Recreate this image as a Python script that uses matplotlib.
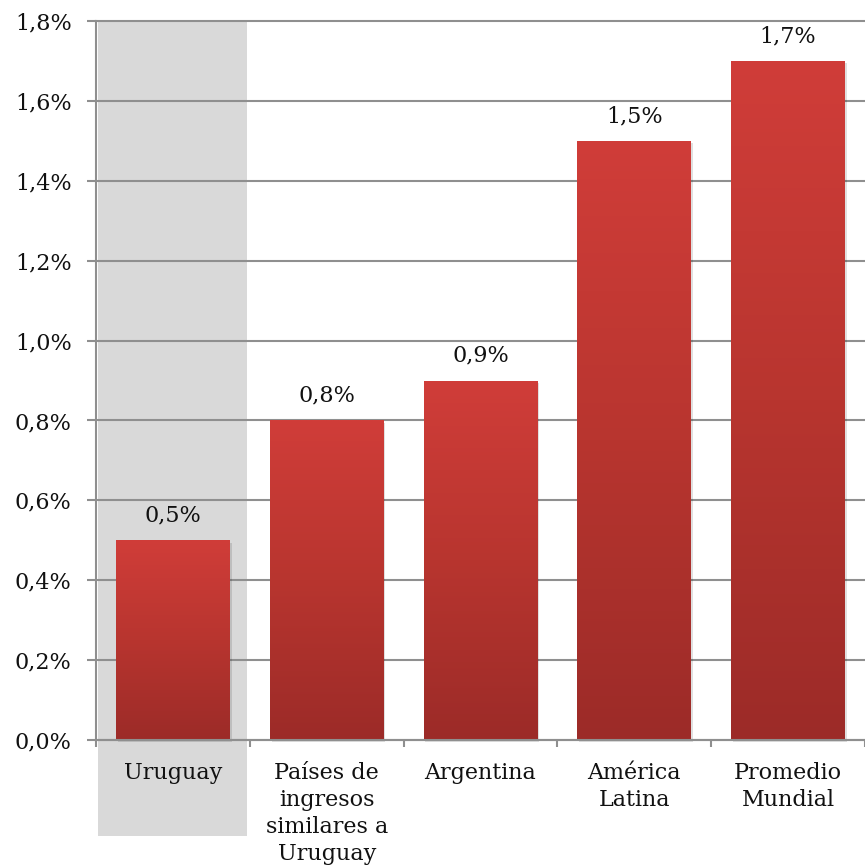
import numpy as np
import matplotlib
matplotlib.use("Agg")
import matplotlib.pyplot as plt
from matplotlib.patches import Rectangle
from matplotlib.colors import LinearSegmentedColormap

categories = ["Uruguay", "Países de\ningresos\nsimilares a\nUruguay", "Argentina", "América\nLatina", "Promedio\nMundial"]
values = [0.5, 0.8, 0.9, 1.5, 1.7]
value_labels = ["0,5%", "0,8%", "0,9%", "1,5%", "1,7%"]
yticks = [0.0, 0.2, 0.4, 0.6, 0.8, 1.0, 1.2, 1.4, 1.6, 1.8]
ytick_labels = ["0,0%", "0,2%", "0,4%", "0,6%", "0,8%", "1,0%", "1,2%", "1,4%", "1,6%", "1,8%"]

plt.rcParams['font.family'] = ['DejaVu Serif']
FS = 16

fig = plt.figure(figsize=(8.65, 8.67), dpi=100)
ax = fig.add_axes([96/865, 1-740/867, 1-96/865, (740-21)/867])

x = np.arange(len(categories))
bars = ax.bar(x, values, width=0.74, color="#c0392f", zorder=2)

cmap = LinearSegmentedColormap.from_list("redgrad", ["#9c2b28", "#b8352f", "#d03d39"])
grad = np.linspace(0, 1, 256).reshape(-1, 1)
for b in bars:
    x0, y0 = b.get_x(), b.get_y()
    w, h = b.get_width(), b.get_height()
    sh = Rectangle((x0 + 0.012, y0 - 0.006), w, h, facecolor="#000000", alpha=0.12, zorder=1.5, linewidth=0, clip_on=False)
    ax.add_patch(sh)
    im = ax.imshow(grad, extent=(x0, x0 + w, y0, y0 + h), origin="lower", cmap=cmap,
                   aspect="auto", zorder=2.1, interpolation="bilinear")
    im.set_clip_path(b)

for b, lab in zip(bars, value_labels):
    ax.annotate(lab, (b.get_x() + b.get_width()/2, b.get_height()), xytext=(0, 10),
                textcoords="offset points", ha="center", va="bottom", fontsize=FS, color="#111111")

ax.set_xlim(-0.5, len(categories) - 0.5)
ax.set_ylim(0, 1.8)

band = Rectangle((-0.487, -0.24), 0.969, 1.8 + 0.24, facecolor="#d9d9d9", edgecolor="none",
                 zorder=0.1, clip_on=False)
ax.add_patch(band)

ax.set_yticks(yticks)
ax.set_yticklabels(ytick_labels, fontsize=FS, color="#111111")
ax.yaxis.grid(True, color="#8f8f8f", linewidth=1.5)
ax.set_axisbelow(True)
for gl in ax.get_ygridlines():
    gl.set_clip_on(False)

ax.set_xticks(np.arange(-0.5, len(categories), 1.0))
ax.set_xticklabels([])
ax.set_xticks(x, minor=True)
ax.set_xticklabels(categories, minor=True, fontsize=FS, color="#111111", linespacing=1.28, va="top")
ax.tick_params(axis="x", which="minor", length=0, pad=16)
ax.tick_params(axis="x", which="major", length=5, width=1.5, color="#8f8f8f", direction="out")
ax.tick_params(axis="y", length=6.5, width=1.5, color="#8f8f8f", pad=11)

for s in ["top", "right"]:
    ax.spines[s].set_visible(False)
for s in ["left", "bottom"]:
    ax.spines[s].set_color("#8f8f8f")
    ax.spines[s].set_linewidth(1.5)

fig.savefig("out.png", dpi=100)
